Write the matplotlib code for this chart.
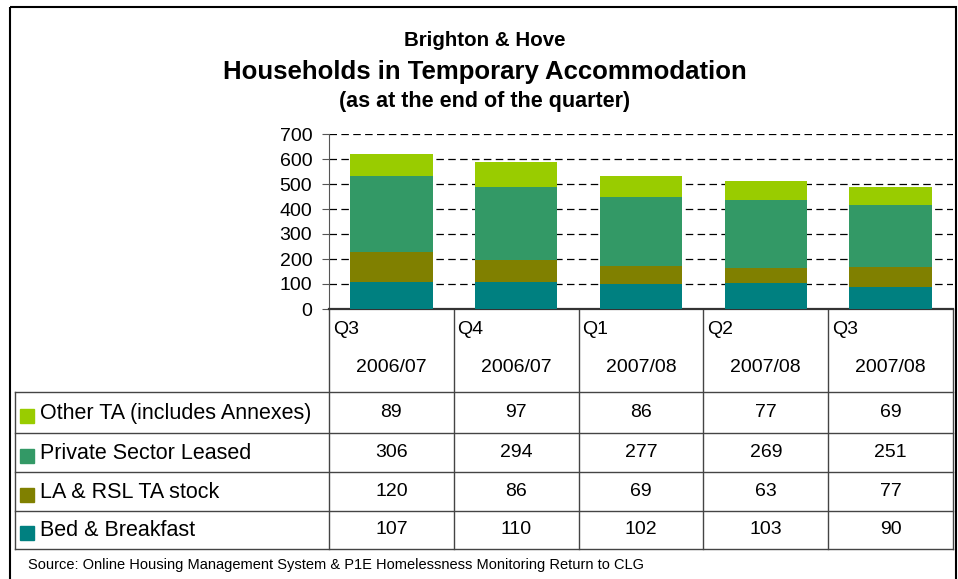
import matplotlib
matplotlib.use("Agg")
import matplotlib.pyplot as plt
from matplotlib.patches import Rectangle
from matplotlib.transforms import blended_transform_factory
import numpy as np

plt.rcParams['font.family'] = ['Liberation Sans', 'DejaVu Sans']

# --- Data ---
quarters = ["Q3", "Q4", "Q1", "Q2", "Q3"]
years = ["2006/07", "2006/07", "2007/08", "2007/08", "2007/08"]
series_names = ["Other TA (includes Annexes)", "Private Sector Leased",
                "LA & RSL TA stock", "Bed & Breakfast"]
other_ta = [89, 97, 86, 77, 69]
private_leased = [306, 294, 277, 269, 251]
la_rsl = [120, 86, 69, 63, 77]
bed_breakfast = [107, 110, 102, 103, 90]
colors = ["#99CC00", "#339966", "#808000", "#008080"]

W, H = 958, 579
fig = plt.figure(figsize=(W / 100, H / 100), dpi=100)

# overlay axes in pixel coordinates (for titles, table, border)
ov = fig.add_axes([0, 0, 1, 1])
ov.set_xlim(0, W)
ov.set_ylim(H, 0)
ov.axis('off')


def px_rect(l, t, r, b):
    return [l / W, 1 - b / H, (r - l) / W, (b - t) / H]


ax = fig.add_axes(px_rect(329, 134, 953, 309))
ax.set_facecolor('none')

# stacked bars, bottom to top
x = np.arange(len(quarters))
stack = [bed_breakfast, la_rsl, private_leased, other_ta]
bottom = np.zeros(len(x))
for vals, c in zip(stack, colors[::-1]):
    ax.bar(x, vals, 0.66, bottom=bottom, color=c, zorder=3)
    bottom += vals

ax.set_xlim(-0.5, 4.5)
ax.set_ylim(0, 700)
ax.set_yticks(range(0, 701, 100))
ax.set_xticks([])
ax.yaxis.grid(True, linestyle=(0, (6, 3.5)), color='black', lw=0.9)
ax.set_axisbelow(True)
ax.tick_params(axis='y', labelsize=14, length=5, pad=7, color='#555555')
for s in ['top', 'right']:
    ax.spines[s].set_visible(False)
ax.spines['left'].set_color('#555555')
ax.spines['bottom'].set_color('#333333')
ax.spines['bottom'].set_linewidth(1.6)

# --- Titles ---
ov.text(485, 40, "Brighton & Hove", ha='center', va='center', fontsize=14.8, fontweight='bold')
ov.text(485, 72, "Households in Temporary Accommodation", ha='center', va='center',
        fontsize=18.5, fontweight='bold')
ov.text(485, 102, "(as at the end of the quarter)", ha='center', va='center',
        fontsize=15.5, fontweight='bold')

# --- Data table ---
trans = blended_transform_factory(ax.transData, ov.transData)
line_kw = dict(color='#444444', lw=1.0)
row_edges = [392, 433, 472, 511, 549]
tbl_left = 15
for i in range(len(quarters) + 1):
    ov.plot([i - 0.5, i - 0.5], [309, 549], transform=trans, **line_kw)
for y in row_edges:
    ov.plot([tbl_left, 953], [y, y], **line_kw)
ov.plot([tbl_left, tbl_left], [392, 549], **line_kw)

for i, (q, yr) in enumerate(zip(quarters, years)):
    ov.text(i - 0.47, 329, q, transform=trans, ha='left', va='center', fontsize=14)
    ov.text(i, 368, yr, transform=trans, ha='center', va='center', fontsize=14)

table_rows = [other_ta, private_leased, la_rsl, bed_breakfast]
for r, (name, vals, c) in enumerate(zip(series_names, table_rows, colors)):
    top, bot = row_edges[r], row_edges[r + 1]
    yc = (top + bot) / 2
    ov.add_patch(Rectangle((20, yc - 4), 14, 14, color=c))
    ov.text(40, yc + 1, name, ha='left', va='center', fontsize=15.5)
    for i, v in enumerate(vals):
        ov.text(i, yc, str(v), transform=trans, ha='center', va='center', fontsize=14)

ov.text(28, 565, "Source: Online Housing Management System & P1E Homelessness Monitoring Return to CLG",
        ha='left', va='center', fontsize=10.5)

# outer border
ov.add_patch(Rectangle((10, 7), 946, 590, fill=False, edgecolor='black', lw=1.5, clip_on=False))

fig.savefig("out.png", dpi=100)
